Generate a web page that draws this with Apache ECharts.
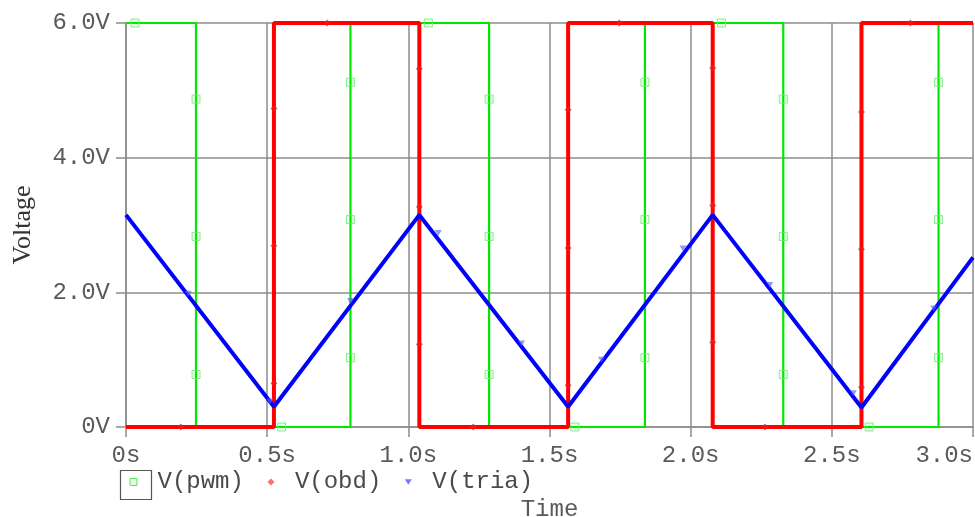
<!DOCTYPE html>
<html><head><meta charset="utf-8">
<script src="https://cdn.jsdelivr.net/npm/echarts@6/dist/echarts.min.js"></script>
<style>html,body{margin:0;padding:0;background:#fff}#c{width:975px;height:517px}</style>
</head><body><div id="c"></div><script>
// Axis ticks
const xTicks = [0, 0.5, 1.0, 1.5, 2.0, 2.5, 3.0];
const xTickLabels = ['0s', '0.5s', '1.0s', '1.5s', '2.0s', '2.5s', '3.0s'];
const yTicks = [0, 2, 4, 6];
const yTickLabels = ['0V', '2.0V', '4.0V', '6.0V'];
const seriesNames = ['V(pwm)', 'V(obd)', 'V(tria)'];

// V(pwm) trace (time s, voltage V)
const pwmT = [0, 0.248, 0.248, 0.795, 0.795, 1.286, 1.286, 1.838, 1.838, 2.328, 2.328, 2.878, 2.878, 3.0];
const pwmV = [6, 6, 0, 0, 6, 6, 0, 0, 6, 6, 0, 0, 6, 6];
// V(obd) trace
const obdT = [0, 0.524, 0.524, 1.039, 1.039, 1.566, 1.566, 2.078, 2.078, 2.605, 2.605, 3.0];
const obdV = [0, 0, 6, 6, 0, 0, 6, 6, 0, 0, 6, 6];
// V(tria) trace
const triaT = [0, 0.524, 1.039, 1.566, 2.078, 2.605, 3.0];
const triaV = [3.15, 0.30, 3.15, 0.30, 3.15, 0.29, 2.52];

// sample markers
const pwmMarkT = [0.032, 0.248, 0.248, 0.248, 0.551, 0.795, 0.795, 0.795, 1.071, 1.286, 1.286, 1.286, 1.59, 1.838, 1.838, 1.838, 2.109, 2.328, 2.328, 2.328, 2.632, 2.878, 2.878, 2.878];
const pwmMarkV = [6, 4.87, 2.83, 0.78, 0, 5.12, 3.08, 1.03, 6, 4.87, 2.83, 0.78, 0, 5.12, 3.08, 1.03, 6, 4.87, 2.83, 0.78, 0, 5.12, 3.08, 1.03];
const obdMarkT = [0.194, 0.524, 0.524, 0.524, 0.713, 1.039, 1.039, 1.039, 1.230, 1.566, 1.566, 1.566, 1.747, 2.078, 2.078, 2.078, 2.263, 2.605, 2.605, 2.605, 2.778];
const obdMarkV = [0, 0.65, 2.69, 4.73, 6, 5.32, 3.27, 1.23, 0, 0.62, 2.66, 4.71, 6, 5.33, 3.29, 1.26, 0, 0.59, 2.64, 4.68, 6];
const triaMarkT = [0.2205, 0.51, 0.795, 1.106, 1.401, 1.684, 1.973, 2.280, 2.576, 2.861];
const triaMarkV = [1.98, 0.38, 1.87, 2.88, 1.24, 1.00, 2.65, 2.11, 0.50, 1.76];

const zip = (a, b) => a.map((v, i) => [v, b[i]]);
const lbl = (ticks, labels) => v => { const i = ticks.findIndex(t => Math.abs(t - v) < 1e-9); return i >= 0 ? labels[i] : ''; };

const GRID = '#8c8c8c';
const MONO = '"Liberation Mono", "DejaVu Sans Mono", monospace';
const TXT = '#5a5a5a';

const chart = echarts.init(document.getElementById('c'), null, {renderer: 'canvas'});
chart.setOption({
  animation: false,
  backgroundColor: '#fff',
  grid: {left: 126, right: 2, top: 23, bottom: 90, containLabel: false, outerBoundsMode: 'none'},
  xAxis: {
    type: 'value', min: 0, max: 3, interval: 0.5,
    name: 'Time', nameLocation: 'middle', nameGap: 71,
    nameTextStyle: {fontFamily: MONO, fontSize: 24, color: TXT},
    axisLine: {show: true, lineStyle: {color: GRID, width: 1.5}},
    axisTick: {show: true, inside: false, length: 10, lineStyle: {color: GRID, width: 1.5}},
    splitLine: {show: true, lineStyle: {color: GRID, width: 1.5}},
    axisLabel: {fontFamily: MONO, fontSize: 24, color: TXT, margin: 17,
      formatter: lbl(xTicks, xTickLabels), alignMaxLabel: 'right'}
  },
  yAxis: {
    type: 'value', min: 0, max: 6, interval: 2,
    name: 'Voltage', nameLocation: 'middle', nameGap: 90, nameRotate: 90,
    nameTextStyle: {fontFamily: '"Liberation Serif", serif', fontSize: 26, color: '#333'},
    axisLine: {show: true, lineStyle: {color: GRID, width: 1.5}},
    axisTick: {show: true, inside: false, length: 10, lineStyle: {color: GRID, width: 1.5}},
    splitLine: {show: true, lineStyle: {color: GRID, width: 1.5}},
    axisLabel: {fontFamily: MONO, fontSize: 24, color: TXT, margin: 16,
      formatter: lbl(yTicks, yTickLabels)}
  },
  legend: {
    left: 129.5, top: 470, orient: 'horizontal', padding: 0,
    itemWidth: 7, itemHeight: 7, itemGap: 23.5, selectedMode: false,
    textStyle: {fontFamily: MONO, fontSize: 24, color: '#4a4a4a', lineHeight: 24, padding: [0, 0, 0, 15.5]},
    data: [
      {name: seriesNames[0], icon: 'rect', itemStyle: {color: 'rgba(0,255,0,0.12)', borderColor: '#5fe05f', borderWidth: 1}},
      {name: seriesNames[1], icon: 'diamond', itemStyle: {color: '#ff7070', borderWidth: 0}},
      {name: seriesNames[2], icon: 'path://M0,0 L10,0 L5,8 Z', itemStyle: {color: '#7878ff', borderWidth: 0}}
    ]
  },
  graphic: [{
    type: 'rect', left: 118, top: 468, z: 100,
    shape: {width: 31, height: 29},
    style: {fill: 'none', stroke: '#555', lineWidth: 1.2}
  }],
  series: [
    {name: seriesNames[0], type: 'line', data: zip(pwmT, pwmV), showSymbol: false, z: 2,
      lineStyle: {color: '#00e800', width: 2.2}, itemStyle: {color: '#00e800'}},
    {name: seriesNames[1], type: 'line', data: zip(obdT, obdV), showSymbol: false, z: 3,
      lineStyle: {color: '#ff0000', width: 4}, itemStyle: {color: '#ff0000'}},
    {name: seriesNames[2], type: 'line', data: zip(triaT, triaV), showSymbol: false, z: 4,
      lineStyle: {color: '#0000ff', width: 4}, itemStyle: {color: '#0000ff'}},
    {name: seriesNames[0], type: 'scatter', data: zip(pwmMarkT, pwmMarkV), z: 5,
      symbol: 'rect', symbolSize: 8,
      itemStyle: {color: 'rgba(0,255,0,0.12)', borderColor: '#6ee86e', borderWidth: 1}},
    {name: seriesNames[1], type: 'scatter', data: zip(obdMarkT, obdMarkV), z: 5,
      symbol: 'diamond', symbolSize: [7, 7],
      itemStyle: {color: 'rgba(230,30,30,0.9)'}},
    {name: seriesNames[2], type: 'scatter', data: zip(triaMarkT, triaMarkV), z: 5,
      symbol: 'triangle', symbolRotate: 180, symbolSize: [7, 6],
      itemStyle: {color: 'rgba(90,90,255,0.8)'}}
  ]
});
</script></body></html>
